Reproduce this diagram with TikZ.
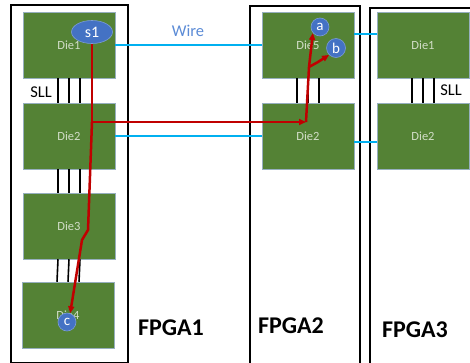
\documentclass[tikz,border=0pt]{standalone}
\usepackage{fontspec}
\setmainfont{Carlito}
\usetikzlibrary{shapes.geometric, arrows.meta, positioning}
\definecolor{diegreen}{RGB}{84,130,53}
\definecolor{dieedge}{RGB}{150,175,190}
\definecolor{dietext}{RGB}{210,222,200}
\definecolor{wireblue}{RGB}{0,176,240}
\definecolor{pathred}{RGB}{192,0,0}
\definecolor{nodeblue}{RGB}{68,114,196}
\definecolor{labelblue}{RGB}{91,139,214}

\begin{document}
\begin{tikzpicture}[
        x=1pt, y=-1pt,
        fpga/.style={draw=black, line width=1.1pt, minimum width=#1, minimum height=358pt, inner sep=0pt},
        die/.style={fill=diegreen, draw=dieedge, line width=0.5pt, minimum width=92pt, minimum height=66pt,
            inner sep=0pt, text=dietext, font=\fontsize{12.5}{14}\selectfont},
        sll/.style={draw=black, line width=1.6pt},
        wire/.style={draw=wireblue, line width=2.2pt},
        redpath/.style={draw=pathred, line width=2.5pt, line join=round},
        tip/.style={-{Triangle[length=7pt, width=6pt]}},
        endpoint/.style={circle, fill=nodeblue, draw=nodeblue!70!white, line width=0.6pt, minimum size=18pt,
            inner sep=0pt, text=white, font=\fontsize{15}{16}\selectfont},
        fpgalabel/.style={font=\fontsize{24}{26}\selectfont\bfseries},
        smalllabel/.style={font=\fontsize{16.5}{18}\selectfont},
    ]
    \useasboundingbox (0,0) rectangle (470,362);
    \clip (0,0) rectangle (470,362);

    % FPGA boards
    \node[fpga=117pt] (fpga1) at (69.5,184) {};
    \node[fpga=110pt] (fpga2) at (305,185) {};
    \node[fpga=110pt] (fpga3) at (425,187) {};

    % dies
    \node[die] (d11) at (69,45) {Die1};
    \node[die] (d12) at (69,136) {Die2};
    \node[die] (d13) at (69,226) {Die3};
    \node[die] (d14) at (68,315) {Die4};
    \node[die] (d25) at (308,45) {Die5};
    \node[die] (d22) at (308,136) {Die2};
    \node[die] (d31) at (423,45) {Die1};
    \node[die] (d32) at (423,136) {Die2};

    % SLL between dies
    \foreach \up/\down in {d11/d12, d12/d13, d13/d14, d25/d22, d31/d32}
        \foreach \dx in {-11,0,11}
            \draw[sll] ([xshift=\dx pt]\up.south) -- ([xshift=\dx pt]\down.north);
    \node[smalllabel] (sllA) at (41,92) {SLL};
    \node[smalllabel] (sllB) at (451,90) {SLL};

    % wires between boards
    \draw[wire] (d11.east) -- (d25.west);
    \draw[wire] (d12.east) -- (d22.west);
    \draw[wire] ([yshift=11pt]d25.east) -- ([yshift=11pt]d31.west);
    \draw[wire] ([yshift=-6pt]d22.east) -- ([yshift=-6pt]d32.west);
    \node[smalllabel, text=labelblue] (wirelbl) at (188,31) {Wire};

    % source and sinks
    \node[ellipse, fill=nodeblue, draw=nodeblue!70!white, line width=0.6pt, minimum width=41pt, minimum height=23pt,
        inner sep=0pt, text=white, font=\fontsize{16}{17}\selectfont] (s1) at (92,32) {s1};
    \node[endpoint] (a) at (320,27) {a};
    \node[endpoint, minimum size=19pt] (b) at (336,48) {b};
    \node[endpoint] (c) at (67,322) {c};

    % routed net
    \coordinate (j1) at (92,122);
    \coordinate (t2) at (306,122);
    \coordinate (j2) at (309,67);
    \coordinate (j3) at (318,62);
    \coordinate (k1) at (88,230);
    \coordinate (k2) at (82,240);
    \draw[redpath] (s1.south) -- (j1);
    \draw[redpath, tip] (j1) -- (t2);
    \draw[redpath] (t2) -- (j2);
    \draw[redpath, tip] (j2) -- (a.220);
    \draw[redpath, tip] (j2) -- (j3) -- (b.225);
    \draw[redpath, tip] (j1) -- (k1) -- (k2) -- (c.70);

    % board names
    \node[fpgalabel] (lbl1) at (171,328) {FPGA1};
    \node[fpgalabel] (lbl2) at (291,326) {FPGA2};
    \node[fpgalabel] (lbl3) at (415,330) {FPGA3};
\end{tikzpicture}
\end{document}
